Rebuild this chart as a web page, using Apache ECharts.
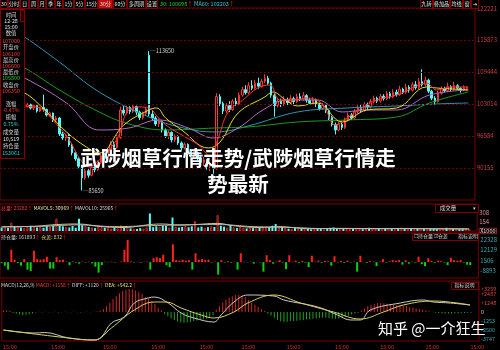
<!DOCTYPE html>
<html><head><meta charset="utf-8">
<script src="https://cdn.jsdelivr.net/npm/echarts@6/dist/echarts.min.js"></script>
<style>html,body{margin:0;padding:0;background:#000}#c{width:500px;height:350px}</style>
</head><body><div id="c"></div>
<script>
const FONT = '"Noto Sans CJK SC", "Noto Sans", sans-serif';
const barCount = 148;
const dayEndIdx = [2,17,33,48,63,76,90,105,119,133,147];
const timeLabel = '15:00';

const opens = [103600,103100,103500,102800,103200,102600,103000,102400,
102500,102900,102200,102700,101600,102300,101900,100800,101200,99800,
100200,97000,96200,96800,94800,93200,92000,90500,88200,89600,
88700,90300,89800,91300,92600,92100,93800,94900,94300,96300,
101800,101200,102300,101500,102500,101400,100300,101100,112800,101000,
100200,99000,99600,97800,96600,97300,95800,96500,95200,94200,
94900,93600,92700,93300,92200,91300,91800,90500,90900,90100,
104500,103100,101600,102700,101900,103600,103000,104800,105900,105300,
106700,106200,107200,106600,107600,108200,107200,104800,102700,103600,
102900,103900,103300,104100,103500,104500,104000,104700,103800,103200,
103900,102900,102100,102800,101700,100300,98900,97800,98900,98300,
99800,100800,100200,101500,102300,101800,102900,102400,103500,104200,
103600,104600,104100,105100,104500,105400,104900,106000,105400,106400,
105800,106900,106300,107500,106900,107800,105600,104200,103500,105200,
106100,105700,106500,106000,106700,106200,105900,106100];
const closes = [103100,103500,102800,103200,102600,103000,102400,102500,
102900,102200,102700,101600,102300,101900,100800,101200,99800,100200,
97000,96200,96800,94800,93200,92000,90500,88200,89600,88700,
90300,89800,91300,92600,92100,93800,94900,94300,96300,101800,
101200,102300,101500,102500,101400,100300,101100,102000,101000,100200,
99000,99600,97800,96600,97300,95800,96500,95200,94200,94900,
93600,92700,93300,92200,91300,91800,90500,90900,90100,104500,
103100,101600,102700,101900,103600,103000,104800,105900,105300,106700,
106200,107200,106600,107600,108200,107200,104800,102700,103600,102900,
103900,103300,104100,103500,104500,104000,104700,103800,103200,103900,
102900,102100,102800,101700,100300,98900,97800,98900,98300,99800,
100800,100200,101500,102300,101800,102900,102400,103500,104200,103600,
104600,104100,105100,104500,105400,104900,106000,105400,106400,105800,
106900,106300,107500,106900,107800,105600,104200,103500,105200,106100,
105700,106500,106000,106700,106200,105900,106400,106350];
const lows = [102800,102900,102500,102600,102300,102400,102100,102200,
102300,101900,101800,101300,101400,101500,100500,100400,99400,99300,
96600,95800,95600,94400,92700,91600,90100,85650,87800,88200,
88500,89300,89600,91000,91600,91800,93400,93900,94000,96000,
100700,100900,101000,101200,100800,99800,99900,100700,100600,99700,
98600,98400,97300,96200,96000,95300,95400,94800,93700,93900,
93100,92300,92200,91700,90800,90600,89800,89500,89000,89800,
102600,101000,101200,101400,101600,102600,102800,104500,104900,105000,
105800,105900,106100,106300,107200,106900,104300,100500,102300,102400,
102600,102800,103000,103000,103200,103600,103700,103300,102800,102900,
102400,101700,101800,101200,99800,98500,96900,97500,97800,98000,
99500,99800,99900,101100,101300,101500,101900,102100,103100,103200,
103300,103700,103800,104100,104200,104500,104600,105000,105100,105300,
105500,105900,106000,106500,106600,105200,103800,102900,103300,104900,
105300,105400,105600,105700,105900,105300,105600,105800];
const highs = [103900,103800,103700,103500,103400,103300,103200,102800,
103200,103100,102900,102800,102500,104900,102100,101500,101300,100600,
100400,97400,97100,97000,95100,93600,92300,90800,90100,90000,
90700,91000,91700,93100,93200,94200,95600,95500,96800,102500,
102600,102700,102600,102800,102700,101700,101500,102400,113650,101800,
100600,100100,99800,98100,97700,97500,96900,96700,95500,95300,
95100,94000,93700,93500,92500,92400,92000,91400,91200,105200,
105000,103500,103200,103600,104000,104300,105300,106500,106800,107400,
107800,107900,108300,108100,109000,108700,107500,105200,104300,104100,
104600,104300,104800,104500,105100,105200,105400,105000,104200,104400,
104100,103300,103200,103000,101900,100600,99300,99400,99600,100300,
101300,101200,102000,102800,102900,103400,103300,104000,104700,104500,
105100,105000,105600,105500,106000,105900,106700,106300,107100,106800,
107400,107600,108200,110000,108500,108100,105900,104600,105700,106600,
106500,107300,106800,107500,107000,106400,106800,106600];

// moving averages: [bar index, price]
const ma5Pts = [[0,104232],[7.2,102624],[11.9,102222],[16.5,99408],[21.1,95790],[24.2,92172],[27.3,90363],[30.4,91770],[33.5,93780],[36.6,96795],[39.1,101418],[42.8,102423],[45.9,102222],[48.9,100212],[52,98403],[56.7,96594],[61.3,94785],[65,92574],[67.5,96192],[70.6,101418],[75.2,103830],[79.8,106242],[83.6,106845],[86.6,103830],[90.7,103830],[95.3,104232],[99.9,103026],[104,98805],[107.7,100212],[112.3,102222],[117,103830],[123.1,104835],[129.3,106644],[132.4,107247],[135.5,105840],[140.1,106443],[145.4,106443]];
const ma10Pts = [[0,106845],[7.2,105237],[12.8,102222],[20.2,97398],[26.4,94383],[30.4,93177],[38.1,98805],[45.9,101820],[48.3,102222],[51.1,100212],[56.1,97800],[64.4,94182],[68.1,95388],[73.7,101217],[82,104433],[84.5,105438],[88.5,103830],[92.2,102624],[98.4,103227],[106.1,99408],[113.8,101820],[123.1,102222],[132.4,106443],[135.5,106242],[145.4,105840]];
const ma20Pts = [[0,110262],[7.2,108252],[20.2,103227],[30.4,97800],[39.7,98202],[48.9,99810],[58.2,98202],[65.9,96192],[73.7,98202],[81.4,101820],[89.1,103830],[98.4,103830],[106.1,101418],[113.8,101820],[123.1,101820],[133.3,104835],[145.4,105840]];
const ma30Pts = [[0,112272],[7.2,110262],[18,105840],[30.4,101418],[39.7,99006],[51.1,97800],[66.6,98202],[76.8,98403],[92.2,99408],[107.7,99810],[123.1,100413],[133.3,103227],[145.4,105438]];
const ma60Pts = [[0,119508],[7.2,116493],[18,111468],[30.4,105438],[45.9,100413],[56.7,98202],[66.6,97398],[76.8,98604],[92.2,101418],[107.7,102222],[123.1,102624],[135.5,103026],[145.4,103227]];

const volumes = [60,75,55,140,70,85,60,50,65,90,
80,60,70,55,85,75,95,210,90,80,
70,60,85,55,210,100,90,70,60,50,
85,65,55,70,40,55,45,95,60,70,
45,40,35,50,40,60,300,65,80,70,
90,85,60,230,75,60,70,85,65,80,
170,60,75,55,65,80,70,270,90,75,
60,100,65,50,70,55,45,60,50,70,
60,75,55,65,90,120,60,70,55,40,
35,50,40,35,45,40,30,45,35,40,
30,45,55,60,50,45,40,35,30,40,
45,35,30,40,55,45,40,35,30,45,
40,35,30,40,60,45,40,35,30,40,
45,35,30,40,45,35,30,40,55,45,
40,35,30,40,35,30];
const mavol5Pts = [[0,70],[10,80],[17,110],[24,120],[30,80],[38,60],[46,110],[50,120],[55,100],[60,110],[67,130],[72,90],[80,60],[86,75],[95,40],[105,45],[115,40],[125,42],[135,38],[145,35]];
const mavol10Pts = [[0,75],[12,80],[24,105],[35,75],[46,90],[55,105],[67,110],[78,75],[90,60],[100,42],[115,42],[130,40],[145,37]];

const oiChange = [-1000,-3500,-7500,12500,2500,-1000,-3500,3000,-7500,-9000,
11500,3000,2500,3000,5500,-6500,-6500,5000,2000,2500,
500,-3000,800,-500,-1500,600,-400,500,-1200,-4500,
-10500,-3000,400,-300,500,-400,300,600,12500,22500,
800,-500,400,-600,300,500,-7500,4000,5000,4000,
7500,-3000,-5000,18000,2000,1500,2500,1500,2000,-7500,
9000,2500,3000,2000,2500,-500,500,-12500,2000,-500,
1000,-600,400,-7500,9000,500,-300,400,-1500,300,
-400,-9500,7000,2000,-1500,500,2000,-500,-7000,7000,
500,1500,-800,1200,-600,-5000,6500,500,1500,-600,
1200,800,-3500,6000,-300,1200,-800,1500,-400,500,
-9500,6500,400,-800,1000,500,-4000,600,3000,-500,
800,2000,1500,2000,-2500,2000,-1500,500,-600,5500,
-2000,-4000,4000,1200,-800,1500,1000,-500,-3000,4500,
2000,1500,2000,-500,-2500,-3000];

const macdHist = [200,250,150,-150,-250,-350,-400,-350,-300,-200,
-80,40,-60,30,-50,-30,40,-60,-40,30,
-50,-30,20,-40,-60,-30,20,-20,30,80,
200,400,800,1300,1800,2200,2600,2900,3100,3200,
3150,3000,2800,2500,2100,1800,1500,1100,600,200,
-300,-600,-900,-1100,-1300,-1450,-1500,-1450,-1400,-1300,
-1200,-1100,-1000,-900,-700,-400,300,800,1300,1700,
2000,2200,2350,2400,2300,2100,1700,1300,1000,700,
400,150,-200,-500,-800,-1100,-1300,-1400,-1350,-1300,
-1250,-1200,-1150,-1100,-1050,-1000,-950,-900,-850,-800,
-800,-850,-900,-950,-900,-800,-650,-500,-350,-200,
-100,200,500,800,1000,1150,1250,1250,1200,1150,
1100,1000,950,900,850,800,700,600,500,400,
300,200,100,50,-100,-150,-180,-200,-200,-200,
-180,-160,-150,-130,-120,-100];
const diffPts = [[0,-2500],[9.7,-2917],[12.8,-2850],[20.2,-3611],[28.2,-3889],[30.4,-3472],[33.5,-1528],[37.5,-694],[40.6,1250],[44.9,1944],[46.8,2083],[51.1,1250],[55.1,-139],[59.1,-833],[65.3,-1389],[67.5,-417],[71.5,1389],[75.8,2361],[83.9,2222],[87,1667],[97.5,694],[103.6,-417],[107.7,-1111],[110.7,-1111],[113.8,278],[123.1,1250],[130.2,1667],[133.3,1389],[138.6,1250],[144.7,972]];
const deaPts = [[0,-2500],[20.2,-3611],[28.2,-3889],[33.5,-2222],[40.6,278],[46.8,1389],[50.5,1389],[55.1,556],[61.3,-417],[65.3,-833],[71.5,0],[75.8,1250],[83.9,2361],[92.2,1250],[102.4,0],[110.7,-972],[117.9,0],[124,972],[133.3,1528],[140.7,1250],[144.7,972]];

const priceTicks = [90155, 96584, 103014, 109444, 115873, 122221];
const volTicks = [0, 154, 308];
const oiTicks = [-8893, 1506, 12129, 22328];
const macdTicks = [-3747, -2500, -1253, 0, 1248, 2487, 3259];

const infoRows = [['时间','l'],['12-28','w'],['15:00','w'],['数值','l'],['107000','r'],['开盘价','l'],['106100','r'],['最高价','l'],['106600','r'],['最低价','l'],['105800','g'],['收盘价','l'],['106350','r'],['涨幅','l'],['-0.47%','r'],['振幅','l'],['0.75%','c'],['成交量','l'],['10,519','w'],['持仓量','l'],['153061','c']];
const tabs = ['30','分时','日','周','月','季','年','1分','5分','15分','30分','60分','多周期','设置'];
const rightBtns = ['九转','叠加品','均线','窗','⇥'];
const titleLines = ['武陟烟草行情走势/武陟烟草行情走', '势最新'];
const watermark = '知乎 @一介狂生';

// ---------- build ----------
const cats = Array.from({length: barCount}, (_, i) => dayEndIdx.includes(i) ? timeLabel : '');
const candleData = opens.map((o, i) => [o, closes[i], lows[i], highs[i]]);
const up = i => closes[i] >= opens[i];
const RED = '#ff3232', CYAN = '#54fcfc', BORDER = '#7a0000';
const colorMap = {l:'#d8d8d8', w:'#e8e8e8', r:'#ff3c3c', g:'#22cc22', c:'#3cc8d0'};

const G = [];
function txt(x, y, text, fill, size, align, extra) {
  G.push({type:'text', x:x, y:y, z:100, silent:true, style:Object.assign({text:text, fill:fill, font: size + 'px ' + FONT, textAlign: align || 'left', textVerticalAlign:'middle'}, extra || {})});
}
function box(x, y, w, h, stroke, fill) {
  G.push({type:'rect', z:99, silent:true, shape:{x:x + 0.5, y:y + 0.5, width:w, height:h}, style:{fill: fill || '#000', stroke: stroke, lineWidth:1}});
}
// top tabs
const tabX = [0,8,20,29,38,46,55,63,74,85,98,113,127,146,158];
tabs.forEach((t, k) => {
  const x0 = tabX[k], x1 = tabX[k + 1];
  const sel = t === '30分';
  box(x0, -1, x1 - x0 - 1, 9, '#800000', sel ? '#c01010' : '#000');
  txt((x0 + x1) / 2, 4, t, '#e0e0e0', 5.2, 'center');
});
G.push({type:'text', x:160, y:4, z:100, silent:true, style:{text:'{g|30: 100698}{u|↑} {c|MA60: 102203}{u|↑}', textVerticalAlign:'middle', font:'5.5px ' + FONT, rich:{g:{fill:'#22cc22', font:'5.5px ' + FONT}, c:{fill:'#3cc8d0', font:'5.5px ' + FONT}, u:{fill:'#ff2020', font:'5.5px ' + FONT}}}});
const rbX = [420,433,450,463,471,479];
rightBtns.forEach((t, k) => {
  box(rbX[k], -1, rbX[k + 1] - rbX[k] - 1, 9, '#800000');
  txt((rbX[k] + rbX[k + 1]) / 2, 4, t, '#e0e0e0', 5.2, 'center');
});
// info panel
box(0, 9, 24, 149, '#8a0000');
box(20, 10, 4, 11, '#8a0000', '#200000');
const infoY = [15,21,27,33,41,47,54,60,66,72,78,85,91,104,110,117,124,132,139,146,153];
infoRows.forEach((r, k) => txt(11, infoY[k], r[0], colorMap[r[1]], 5.3, 'center'));
// panel headers
const rs = s => ({fill:s, font:'5px ' + FONT});
G.push({type:'text', x:1, y:208, z:100, silent:true, style:{text:'{r|总量: 23282}{u|↑} {y|MAVOL5: 30969}{u|↑} {w|MAVOL10: 25965}{u|↑}', textVerticalAlign:'middle', font:'5px ' + FONT, rich:{r:rs('#ff4040'), y:rs('#e8e0a0'), w:rs('#d8d8d8'), u:rs('#ff2020')}}});
G.push({type:'text', x:1, y:237, z:100, silent:true, style:{text:'{w|持仓量: 161893}{u|↑} {y|仓差: 832}{u|↑}', textVerticalAlign:'middle', font:'5px ' + FONT, rich:{w:rs('#d8d8d8'), y:rs('#e8d860'), u:rs('#ff2020')}}});
G.push({type:'text', x:1, y:285, z:100, silent:true, style:{text:'{w|MACD(12,26,9)} {r|MACD: +1158}{u|↑} {w|DIFF: +1120}{u|↑} {y|DEA: +542.2}{u|↑}', textVerticalAlign:'middle', font:'5px ' + FONT, rich:{w:rs('#d8d8d8'), r:rs('#ff4040'), y:rs('#e8e060'), u:rs('#ff2020')}}});
box(435, 204, 43, 8, '#800000');
txt(448, 208, '成交量', '#d8d8d8', 5.5, 'center');
txt(474, 208, '▾', '#d8d8d8', 5, 'center');
box(412, 233, 66, 7, '#800000');
txt(414, 236.5, '☐持仓量 ☑仓差', '#d8d8d8', 5, 'left');
txt(468, 236.5, '指标说明', '#d8d8d8', 5, 'center');
box(451, 282, 27, 7, '#800000');
txt(464.5, 285.5, '指标说明', '#d8d8d8', 5, 'center');
// title + watermark
txt(238, 158, titleLines[0], '#ffffff', 20.5, 'center', {font:'bold 20.5px ' + FONT, shadowColor:'rgba(0,0,0,0.9)', shadowBlur:4});
txt(238, 184, titleLines[1], '#ffffff', 20.5, 'center', {font:'bold 20.5px ' + FONT, shadowColor:'rgba(0,0,0,0.9)', shadowBlur:4});
txt(378, 328, watermark, '#ffffff', 15, 'left', {shadowColor:'rgba(0,0,0,0.8)', shadowBlur:3});

const grids = [
  {left:0, right:21, top:8, height:192},
  {left:0, right:21, top:204, height:27},
  {left:0, right:21, top:233, height:45},
  {left:0, right:21, top:281, height:60}
].map(g => Object.assign(g, {show:true, borderColor:BORDER, borderWidth:1, backgroundColor:'transparent'}));

const catAxis = (gi, showLabel) => ({type:'category', gridIndex:gi, data:cats, boundaryGap:true,
  axisLine:{show:false}, axisTick:{show:false}, splitLine:{show:false},
  axisLabel:{show:!!showLabel, interval:0, color:'#d03030', fontSize:5.5, margin:3, fontFamily:FONT}});
const valX = gi => ({type:'value', gridIndex:gi, min:-0.5, max:barCount - 0.5, show:false, splitLine:{show:false}});
const yAx = (gi, min, max, ticks, fmt, color, fs) => ({type:'value', gridIndex:gi, position:'right', min:min, max:max, scale:true,
  axisLine:{show:false}, axisTick:{show:false, customValues:ticks}, splitLine:{show:false},
  axisLabel:{customValues:ticks, formatter:fmt, color:color, fontSize:fs || 6, margin:2, hideOverlap:false, fontFamily:FONT}});

const lineS = (xi, yi, pts, color) => ({type:'line', xAxisIndex:xi, yAxisIndex:yi, data:pts, smooth:0.4, symbol:'none', silent:true, lineStyle:{color:color, width:1}, z:3});

const option = {
  backgroundColor:'#000',
  animation:false,
  textStyle:{fontFamily:FONT},
  grid:grids,
  xAxis:[catAxis(0), catAxis(1), catAxis(2), catAxis(3, true), valX(0), valX(1), valX(3)],
  yAxis:[
    yAx(0, 83722, 122322, priceTicks, v => String(v), '#d03c3c'),
    yAx(1, 0, 462, volTicks, v => Number(v) === 0 ? '{b|X1000}' : '{a|' + v + '}', '#d89090'),
    yAx(2, -15942, 29377, oiTicks, v => String(v), '#3aa8b0'),
    yAx(3, -4028, 4306, macdTicks, v => Number(v) > 0 ? '+' + v : String(v), v => Number(v) > 0 ? '#e04040' : (Number(v) < 0 ? '#3aa8b0' : '#d0d0d0'), 5.5)
  ],
  graphic: G,
  series:[
    {type:'candlestick', xAxisIndex:0, yAxisIndex:0, data:candleData, barWidth:2, silent:true,
      itemStyle:{color:'#000', color0:CYAN, borderColor:RED, borderColor0:CYAN, borderWidth:1},
      markLine:{silent:true, symbol:'none', label:{show:false}, lineStyle:{color:'#6a0000', type:[2,2], width:1},
        data: priceTicks.map(v => ({yAxis:v}))},
      markPoint:{symbol:'rect', symbolSize:0.1, silent:true,
        label:{show:true, position:'right', distance:1, color:'#d0d0d0', fontSize:5.5, formatter:p => '─' + p.value},
        data:[{type:'max', valueDim:'highest'}, {type:'min', valueDim:'lowest'}]}},
    lineS(4, 0, ma60Pts, '#2e96b4'),
    lineS(4, 0, ma30Pts, '#1e9a1e'),
    lineS(4, 0, ma20Pts, '#b070c0'),
    lineS(4, 0, ma10Pts, '#e8e020'),
    lineS(4, 0, ma5Pts, '#ff3030'),
    {type:'bar', xAxisIndex:1, yAxisIndex:1, barWidth:2, silent:true,
      data: volumes.map((v, i) => ({value:v, itemStyle: up(i) ? {color:'#000', borderColor:RED, borderWidth:0.8} : {color:CYAN}}))},
    lineS(5, 1, mavol5Pts, '#d8c878'),
    lineS(5, 1, mavol10Pts, '#b8b8b8'),
    {type:'bar', xAxisIndex:2, yAxisIndex:2, barWidth:2, silent:true,
      data: oiChange.map(v => ({value:v, itemStyle:{color: v >= 0 ? '#ff2020' : '#10d010'}}))},
    {type:'bar', xAxisIndex:3, yAxisIndex:3, barWidth:1, silent:true,
      data: macdHist.map(v => ({value:v, itemStyle:{color: v >= 0 ? '#d02828' : '#22a022'}}))},
    lineS(6, 3, diffPts, '#c8c8c8'),
    lineS(6, 3, deaPts, '#d8d060')
  ]
};
option.yAxis[1].axisLabel.rich = {a:{color:'#d89090', fontSize:6}, b:{color:'#e0e0e0', fontSize:5.5, borderColor:'#a02020', borderWidth:1, padding:[0,1]}};
const chart = echarts.init(document.getElementById('c'), null, {renderer:'canvas'});
chart.setOption(option);
</script></body></html>
